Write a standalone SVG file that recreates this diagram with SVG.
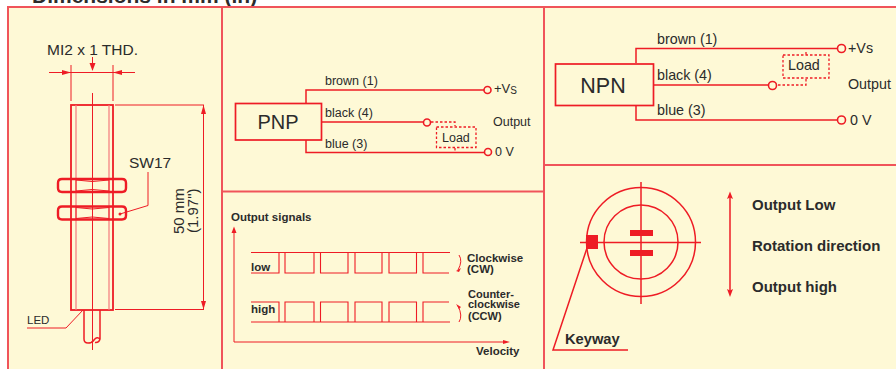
<svg xmlns="http://www.w3.org/2000/svg" width="896" height="369" viewBox="0 0 896 369">
<style>
text{font-family:"Liberation Sans",Arial,sans-serif;fill:#2b2b2b}
.b{font-weight:bold}
.f{fill:none;stroke:#f0545a;stroke-width:2}
.l{fill:none;stroke:#ee1c25;stroke-width:1}
.m{fill:none;stroke:#ee1c25;stroke-width:1.5}
.h{fill:none;stroke:#ee1c25;stroke-width:2}
.p{fill:none;stroke:#f47a7c;stroke-width:1.2}
.d{fill:none;stroke:#ee1c25;stroke-width:1.3;stroke-dasharray:2.5 2}
.t{fill:#fef9d6;stroke:#ee1c25;stroke-width:1.6}
.a{fill:#ee1c25}
.s12{font-size:12.500px}
.s11{font-size:11.500px}
.s14{font-size:14.300px}
.s15{font-size:15px}
</style>
<rect x="0" y="0" width="896" height="369" fill="#fff"/>
<rect x="8" y="7" width="888" height="362" fill="#fef9d6"/>
<text class="b" x="32" y="3" style="font-size:21px">Dimensions in mm (in)</text>
<g id="panel-frame">
<path class="f" d="M8 369V7H896M222 7V369M544 7V369M222 191.500H544M544 165H896"/>
</g>
<g id="connectors">
<path class="l" d="M49 72.500H71M113 72.500H135M71 72.500H113M71 65V101M113 65V101M92.500 57V70M92.500 93V350"/>
<path class="a" d="M62 70L71 72.500L62 75ZM122 70L113 72.500L122 75ZM89.500 63H95.500L92.500 71Z"/>
<path class="l" d="M115 105H204M115 309.500H204M203.500 105V309"/>
<path class="a" d="M201 114L203.500 105L206 114ZM201 301L203.500 309.500L206 301Z"/>
<path class="l" d="M148 172V205.500L120 214"/>
<circle class="a" cx="120" cy="214" r="1.500"/>
<path class="l" d="M27 328H66L83 310"/>
</g>
<g id="sensor">
<rect class="m" x="71" y="105" width="42" height="205" style="stroke-width:1.800"/>
<path class="p" d="M76 105V310M109 105V310"/>
<path class="h" style="stroke-width:2.400" d="M62 179H122Q126 179 126 183V188Q126 192 122 192H62Q58 192 58 188V183Q58 179 62 179Z"/>
<path class="h" style="stroke-width:2.400" d="M62 206.500H122Q126 206.500 126 210.500V215.500Q126 219.500 122 219.500H62Q58 219.500 58 215.500V210.500Q58 206.500 62 206.500Z"/>
<path class="l" d="M76 179V192M109 179V192M76 206.500V219.500M109 206.500V219.500M76 180Q92 183 109 180M76 191Q92 188 109 191M76 207.500Q92 210.500 109 207.500M76 218.500Q92 215.500 109 218.500"/>
<path class="m" d="M84 310V339Q84 343 88 343Q92 343 94 340Q97 336 100 339M100 310V339Q99 343 95 342.500"/>
</g>
<text x="47" y="55" style="font-size:15.500px">MI2 x 1 THD.</text>
<text x="129" y="168" style="font-size:15.500px">SW17</text>
<text class="s11" x="27" y="324">LED</text>
<text class="s15" transform="translate(184 234) rotate(-90)">50 mm</text>
<text class="s15" transform="translate(198 233) rotate(-90)">(1.97")</text>
<g id="pnp">
<rect class="m" style="stroke-width:1.700" x="235.500" y="103.500" width="86" height="36.500"/>
<text x="278" y="128.500" text-anchor="middle" style="font-size:20px">PNP</text>
</g>
<g id="pnp-wires">
<path class="m" d="M306 103V90H484M321 122H423M306 140V152.500H484"/>
<circle class="t" cx="487.500" cy="90" r="3.500"/>
<circle class="t" cx="427" cy="122.500" r="3.500"/>
<circle class="t" cx="488" cy="152" r="3.500"/>
<path class="d" d="M431 122H455V126M436.500 127H476V147.500H436.500ZM455 148V152"/>
</g>
<text class="s12" x="325" y="85">brown (1)</text>
<text class="s12" x="325" y="117">black (4)</text>
<text class="s12" x="325" y="148">blue (3)</text>
<text class="s12" x="442" y="141.500">Load</text>
<text class="s12" x="493" y="126">Output</text>
<text x="494" y="93" style="font-size:13px">+V<tspan font-size="10" dy="1">S</tspan></text>
<text class="s12" x="495" y="156">0 V</text>
<g id="npn">
<rect class="m" style="stroke-width:1.700" x="555.500" y="64" width="98" height="41.500"/>
<text x="603" y="93" text-anchor="middle" style="font-size:21.500px">NPN</text>
</g>
<g id="npn-wires">
<path class="m" d="M636 63V48.500H838M654 85H768M636 106V120H838"/>
<circle class="t" cx="841.500" cy="48.500" r="4"/>
<circle class="t" cx="772.500" cy="85.500" r="4"/>
<circle class="t" cx="841.500" cy="120" r="4"/>
<path class="d" d="M778 85H806V78.500M783 55H829V78H783ZM806 52V55"/>
</g>
<text class="s14" x="657" y="44">brown (1)</text>
<text class="s14" x="657" y="80">black (4)</text>
<text class="s14" x="657" y="115">blue (3)</text>
<text class="s14" x="788" y="70">Load</text>
<text class="s14" x="848" y="89">Output</text>
<text class="s14" x="848" y="53">+Vs</text>
<text class="s14" x="850" y="125">0 V</text>
<g id="signals">
<text class="b s11" x="231" y="221">Output signals</text>
<path class="l" d="M234 229V342H506"/>
<path class="a" d="M231.500 233L234 226.500L236.500 233ZM503 340L510 342L503 344Z"/>
<path class="m" style="stroke-width:1.100" d="M251 252.500H450M251 273H279V252.500M285 252.500V273H314V252.500M320.500 252.500V273H348V252.500M355 252.500V273H382V252.500M389 252.500V273H416.500V252.500M423 252.500V273H449"/>
<path class="m" style="stroke-width:1.100" d="M251 322H450M251 302H279V322M285 322V302H314V322M320.500 322V302H348V322M355 322V302H382V322M389 322V302H416.500V322M423 322V302H449"/>
<text class="b s11" x="251" y="271">low</text>
<text class="b s11" x="251" y="313">high</text>
<path class="l" d="M459 255Q463 261 458 270"/>
<path class="a" d="M456 271L461 268L459 272Z"/>
<path class="l" d="M459 322Q463 316 458 306"/>
<path class="a" d="M456 304L461 307L459 309Z"/>
<text class="b s11" x="467" y="262">Clockwise</text>
<text class="b s11" x="467" y="273">(CW)</text>
<text class="b s11" x="468" y="298" style="font-size:11px">Counter-</text>
<text class="b s11" x="468" y="308" style="font-size:11px">clockwise</text>
<text class="b s11" x="468" y="320" style="font-size:11px">(CCW)</text>
<text class="b s11" x="476" y="355">Velocity</text>
</g>
<g id="keyway">
<circle class="m" cx="641" cy="242" r="54.500"/>
<circle class="m" cx="641" cy="242" r="37"/>
<path class="m" d="M641 182V304"/>
<path class="l" style="stroke-width:1.300" d="M580 242.500H701"/>
<rect class="a" x="586" y="235" width="12" height="14"/>
<rect class="a" x="630" y="230" width="23" height="6"/>
<rect class="a" x="630" y="250" width="23" height="6"/>
<path class="m" d="M587 248L553 350H628"/>
<text class="b" x="565" y="344" style="font-size:14.700px">Keyway</text>
</g>
<g id="rotation">
<path class="m" d="M730 195V293"/>
<path class="a" d="M727 199L730 191.500L733 199L730 197.500ZM727 289L730 297L733 289L730 290.500Z"/>
<text class="b s15" x="752" y="210">Output Low</text>
<text class="b s15" x="752" y="251">Rotation direction</text>
<text class="b s15" x="752" y="292">Output high</text>
</g>
</svg>
